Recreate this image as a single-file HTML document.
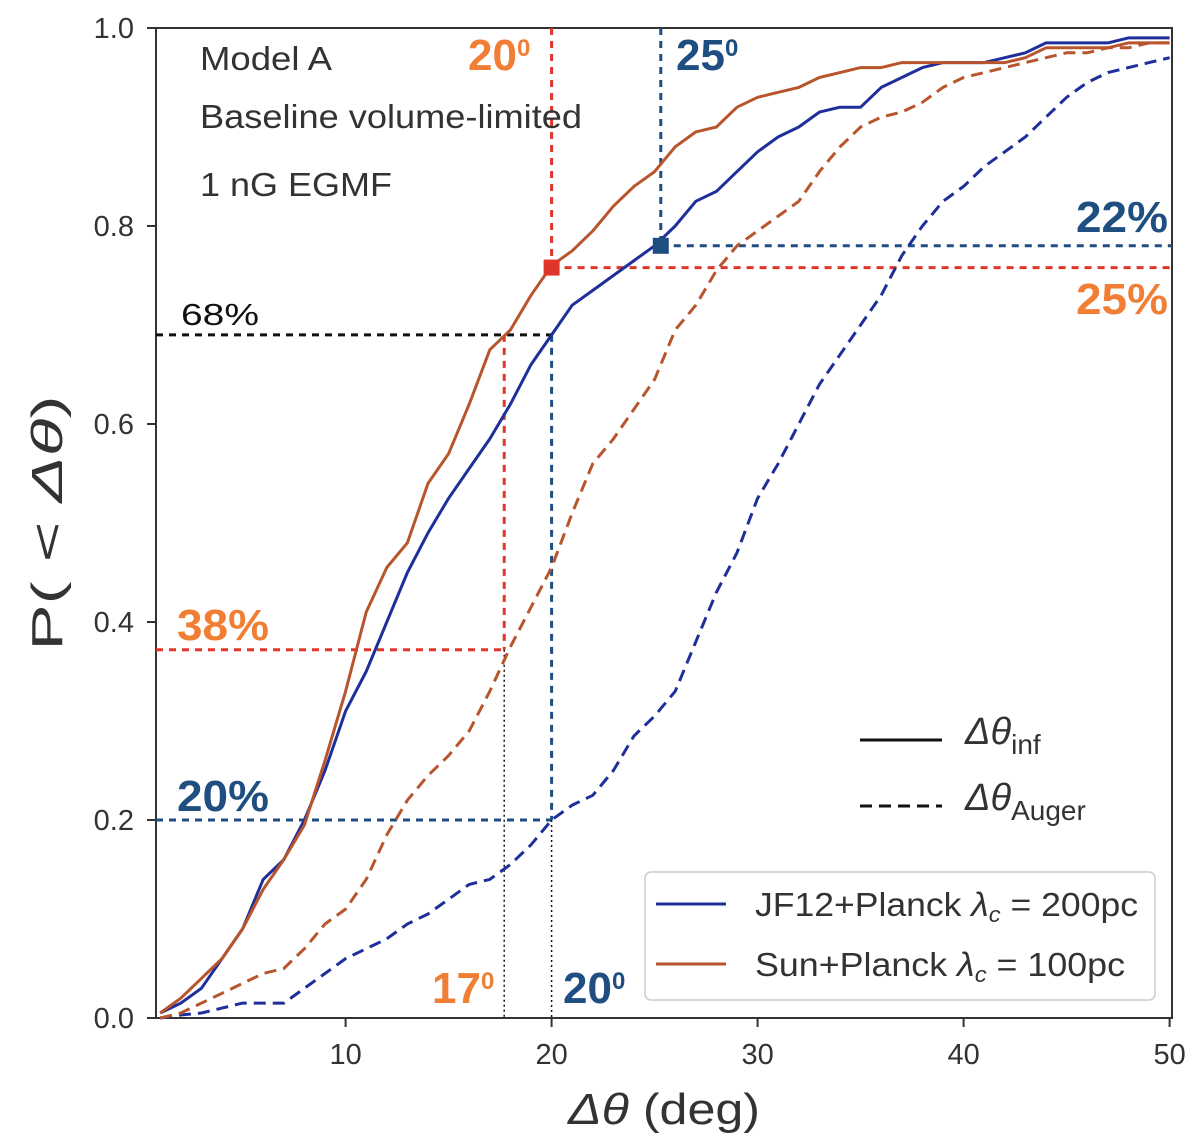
<!DOCTYPE html>
<html><head><meta charset="utf-8">
<style>
html,body{margin:0;padding:0;background:#fff;}
svg{display:block;font-family:"Liberation Sans","DejaVu Sans",sans-serif;}
</style></head>
<body>
<svg id="chart" width="1200" height="1140" viewBox="0 0 1200 1140" xmlns="http://www.w3.org/2000/svg">
<g id="grid"></g>
<g id="annot"></g>
<g id="series"></g>
<g id="over"></g>
</svg>
<script>
const degrees = [1,2,3,4,5,6,7,8,9,10,11,12,13,14,15,16,17,18,19,20,21,22,23,24,25,26,27,28,29,30,31,32,33,34,35,36,37,38,39,40,41,42,43,44,45,46,47,48,49,50];
const jf12Inf = [0.005,0.015,0.03,0.06,0.09,0.14,0.16,0.2,0.25,0.31,0.35,0.4,0.45,0.49,0.525,0.555,0.585,0.62,0.66,0.69,0.72,0.735,0.75,0.765,0.78,0.8,0.825,0.835,0.855,0.875,0.89,0.9,0.915,0.92,0.92,0.94,0.95,0.96,0.965,0.965,0.965,0.97,0.975,0.985,0.985,0.985,0.985,0.99,0.99,0.99];
const sunInf = [0.005,0.02,0.04,0.06,0.09,0.13,0.16,0.195,0.26,0.33,0.41,0.455,0.48,0.54,0.57,0.62,0.675,0.695,0.73,0.76,0.775,0.795,0.82,0.84,0.855,0.88,0.895,0.9,0.92,0.93,0.935,0.94,0.95,0.955,0.96,0.96,0.965,0.965,0.965,0.965,0.965,0.965,0.97,0.98,0.98,0.98,0.98,0.985,0.985,0.985];
const sunAuger = [0.0,0.005,0.015,0.025,0.035,0.045,0.05,0.07,0.095,0.11,0.14,0.185,0.22,0.245,0.265,0.29,0.33,0.375,0.415,0.455,0.51,0.56,0.585,0.615,0.645,0.695,0.72,0.755,0.78,0.795,0.81,0.825,0.855,0.88,0.9,0.91,0.915,0.925,0.94,0.95,0.955,0.96,0.965,0.97,0.975,0.975,0.98,0.98,0.985,0.985];
const jf12Auger = [0.0,0.003,0.005,0.01,0.015,0.015,0.015,0.03,0.045,0.06,0.07,0.08,0.095,0.105,0.12,0.135,0.14,0.155,0.175,0.2,0.215,0.225,0.25,0.285,0.305,0.33,0.38,0.43,0.47,0.525,0.56,0.6,0.64,0.67,0.7,0.73,0.77,0.8,0.825,0.84,0.86,0.875,0.89,0.91,0.93,0.945,0.955,0.96,0.965,0.97];
const xTicks = [10,20,30,40,50];
const yTicks = [0,0.2,0.4,0.6,0.8,1.0];
const yTickLabels = ["0.0","0.2","0.4","0.6","0.8","1.0"];

const L=156,R=1172,T=28,B=1018;
const X = v => 345.6 + (v-10)*20.6;
const Y = v => B - v*(B-T);
const NS="http://www.w3.org/2000/svg";
function mk(parent,tag,attrs,text){const e=document.createElementNS(NS,tag);for(const k in attrs)e.setAttribute(k,attrs[k]);if(text!==undefined)e.textContent=text;document.getElementById(parent).appendChild(e);return e;}

let fr=mk('grid','rect',{x:L,y:T,width:R-L,height:B-T,fill:'none',stroke:'#333','stroke-width':2});


xTicks.forEach(t=>{
  let l=mk('grid','line',{x1:X(t),x2:X(t),y1:B,y2:B+9,stroke:'#333','stroke-width':2});
  
  
  let tx=mk('grid','text',{x:X(t),y:B+46,'text-anchor':'middle','font-size':29,fill:'#333'},String(t));
  
  
});
yTicks.forEach((t,i)=>{
  let l=mk('grid','line',{x1:L-9,x2:L,y1:Y(t),y2:Y(t),stroke:'#333','stroke-width':2});
  
  
  let tx=mk('grid','text',{x:L-22,y:Y(t)+10,'text-anchor':'end','font-size':29,fill:'#333'},yTickLabels[i]);
  
  
});
let xl=mk('grid','text',{x:664,y:1124,'text-anchor':'middle','font-size':44,fill:'#333',textLength:192,lengthAdjust:'spacingAndGlyphs'});
xl.innerHTML='<tspan font-style="italic">Δθ</tspan> (deg)';


let yl=mk('grid','text',{x:0,y:0,'text-anchor':'middle','font-size':44,fill:'#333',transform:'translate(62,523) rotate(-90)',textLength:255,lengthAdjust:'spacingAndGlyphs'});
yl.innerHTML='P( &lt; <tspan font-style="italic">Δθ</tspan>)';



const RED='#e0352b',BLU='#1f4e80',ORG='#f07f35';
function ln(x1,y1,x2,y2,c,dash,w,name,g){let l=mk(g||'annot','line',{x1,y1,x2,y2,stroke:c,'stroke-width':w,'stroke-dasharray':dash});}
ln(X(20),T,X(20),Y(0.758),RED,'7 6',3,'red-vertical-20');
ln(X(20),Y(0.758),R,Y(0.758),RED,'7 6',3,'red-horizontal-25pct');
ln(X(25.3),T,X(25.3),Y(0.78),BLU,'7 6',3,'blue-vertical-25');
ln(X(25.3),Y(0.78),R,Y(0.78),BLU,'7 6',3,'blue-horizontal-22pct');
ln(L,Y(0.69),X(20),Y(0.69),'#111','7 6',3,'black-horizontal-68pct');
ln(X(20),Y(0.69),X(20),Y(0.2),BLU,'7 6',3,'blue-vertical-20');
ln(X(17.7),Y(0.69),X(17.7),Y(0.372),RED,'7 6',3,'red-vertical-17');
ln(L,Y(0.372),X(17.7),Y(0.372),RED,'7 6',3,'red-horizontal-38pct');
ln(L,Y(0.2),X(20),Y(0.2),BLU,'7 6',3,'blue-horizontal-20pct');
ln(X(17.7),Y(0.372),X(17.7),B,'#111','2 3',1.5,'dotted-17');
ln(X(20),Y(0.2),X(20),B,'#111','2 3',1.5,'dotted-20');

function line(arr,c,dash,name){
  const d=degrees.map((v,i)=>(i?'L':'M')+X(v).toFixed(1)+','+Y(arr[i]).toFixed(1)).join(' ');
  let p=mk('series','path',{d,fill:'none',stroke:c,'stroke-width':3,'stroke-dasharray':dash,'stroke-linejoin':'round'});
  
  
}
line(jf12Auger,'#1f2f9a','12 7','jf12-auger-line');
line(sunAuger,'#b9552d','12 7','sun-auger-line');
line(jf12Inf,'#1f2f9a','none','jf12-inf-line');
line(sunInf,'#b9552d','none','sun-inf-line');

let m1=mk('over','rect',{x:X(20)-8,y:Y(0.758)-8,width:16,height:16,fill:RED});


let m2=mk('over','rect',{x:X(25.3)-8,y:Y(0.78)-8,width:16,height:16,fill:BLU});



function lab(x,y,txt,c,size,name,anchor,bold,len){let a={x,y,fill:c,'font-size':size,'font-weight':bold?'bold':'normal','text-anchor':anchor||'start'};if(len){a.textLength=len;a.lengthAdjust='spacingAndGlyphs';}let t=mk('over','text',a);t.innerHTML=txt;}
lab(200,70,'Model A','#333',33,'model-label','start',false,132);
lab(200,128,'Baseline volume-limited','#333',33,'sample-label','start',false,382);
lab(200,196,'1 nG EGMF','#333',33,'egmf-label','start',false,192);
lab(468,70,'20<tspan font-size="24" dy="-14">0</tspan>',ORG,44,'angle-20-top','start',true);
lab(676,70,'25<tspan font-size="24" dy="-14">0</tspan>',BLU,44,'angle-25-top','start',true);
lab(1168,232,'22%',BLU,44,'pct-22','end',true,92);
lab(1168,314,'25%',ORG,44,'pct-25','end',true,92);
lab(181,325,'68%','#111',31,'pct-68','start',false,78);
lab(177,640,'38%',ORG,44,'pct-38','start',true,92);
lab(177,811,'20%',BLU,44,'pct-20','start',true,92);
lab(432,1003,'17<tspan font-size="24" dy="-14">0</tspan>',ORG,44,'angle-17-bottom','start',true);
lab(563,1003,'20<tspan font-size="24" dy="-14">0</tspan>',BLU,44,'angle-20-bottom','start',true);

ln(860,740,942,740,'#111','none',3,'style-legend-solid','over');
ln(860,806,942,806,'#111','12 7',3,'style-legend-dashed','over');
lab(965,744,'<tspan font-style="italic">Δθ</tspan><tspan font-size="28" dy="10">inf</tspan>','#333',38,'style-legend-inf');
lab(965,810,'<tspan font-style="italic">Δθ</tspan><tspan font-size="28" dy="10">Auger</tspan>','#333',38,'style-legend-auger');

let lb=mk('over','rect',{x:645,y:872,width:510,height:128,rx:6,fill:'#fff',stroke:'#ccc','stroke-width':1.5});


ln(656,904,726,904,'#1f2f9a','none',3,'legend-swatch-jf12','over');
ln(656,964,726,964,'#b9552d','none',3,'legend-swatch-sun','over');
lab(755,916,'JF12+Planck <tspan font-style="italic">λ</tspan><tspan font-style="italic" font-size="22" dy="6">c</tspan><tspan dy="-6"> = 200pc</tspan>','#333',33,'legend-entry-jf12','start',false,383);
lab(755,976,'Sun+Planck <tspan font-style="italic">λ</tspan><tspan font-style="italic" font-size="22" dy="6">c</tspan><tspan dy="-6"> = 100pc</tspan>','#333',33,'legend-entry-sun','start',false,370);
</script>
</body></html>
